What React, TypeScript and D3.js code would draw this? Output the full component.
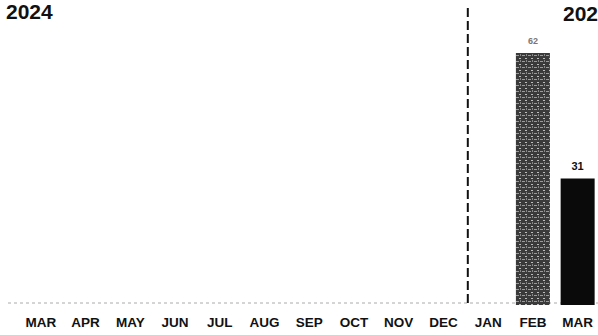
import React from "react";
import * as d3 from "d3";

const months = ["MAR", "APR", "MAY", "JUN", "JUL", "AUG", "SEP", "OCT", "NOV", "DEC", "JAN", "FEB", "MAR2"];
const monthLabels = ["MAR", "APR", "MAY", "JUN", "JUL", "AUG", "SEP", "OCT", "NOV", "DEC", "JAN", "FEB", "MAR"];
const values = [0, 0, 0, 0, 0, 0, 0, 0, 0, 0, 0, 62, 31];
const barColors = ["#222", "#222", "#222", "#222", "#222", "#222", "#222", "#222", "#222", "#222", "#222", "#4d4d4d", "#0a0a0a"];
const yearLeft = "2024";
const yearRight = "2025";

export default function App() {
  const W = 598, H = 335;
  const x = d3.scaleBand<string>().domain(months).range([18.5, 600]).paddingInner(0.24).paddingOuter(0.12);
  const y = d3.scaleLinear().domain([0, 62]).range([304, 53]);
  const divider = (x("DEC")! + x.bandwidth() + x("JAN")!) / 2 + 2;
  return (
    <svg width={W} height={H} style={{ position: "absolute", left: 0, top: 0, background: "#fff" }}
      fontFamily="'Liberation Sans', Arial, sans-serif">
      <defs>
        <pattern id="noise" width="6" height="6" patternUnits="userSpaceOnUse">
          <rect width="6" height="6" fill="#3a3a3a" />
          <rect x="0" y="1" width="3" height="1" fill="#9a9a9a" />
          <rect x="3" y="4" width="2" height="1" fill="#bdbdbd" />
          <rect x="4" y="0" width="1" height="2" fill="#888" />
        </pattern>
      </defs>
      <text x={6} y={19} fontSize={21} fontWeight="bold" fill="#111">{yearLeft}</text>
      <text x={563} y={21} fontSize={21} fontWeight="bold" fill="#111">{yearRight}</text>
      <line x1={8} x2={598} y1={303} y2={303} stroke="#aaa" strokeWidth={1} strokeDasharray="3,3" />
      <line x1={divider} x2={divider} y1={8} y2={306} stroke="#111" strokeWidth={2} strokeDasharray="9,4" />
      {months.map((m, i) => (
        values[i] > 0 ? (
          <g key={m}>
            <rect x={x(m)} y={y(values[i])} width={x.bandwidth()} height={y(0) - y(values[i]) + 1}
              fill={i === 11 ? "url(#noise)" : barColors[i]} />
            <text x={x(m)! + x.bandwidth() / 2} y={y(values[i]) - 9} textAnchor="middle"
              fontSize={i === 11 ? 9 : 11} fontWeight="bold" fill={i === 11 ? "#777" : "#111"}>{values[i]}</text>
          </g>
        ) : null
      ))}
      {months.map((m, i) => (
        <text key={"l" + m} x={x(m)! + x.bandwidth() / 2} y={327} textAnchor="middle" fontSize={13.5}
          fontWeight="bold" fill="#111">{monthLabels[i]}</text>
      ))}
    </svg>
  );
}
